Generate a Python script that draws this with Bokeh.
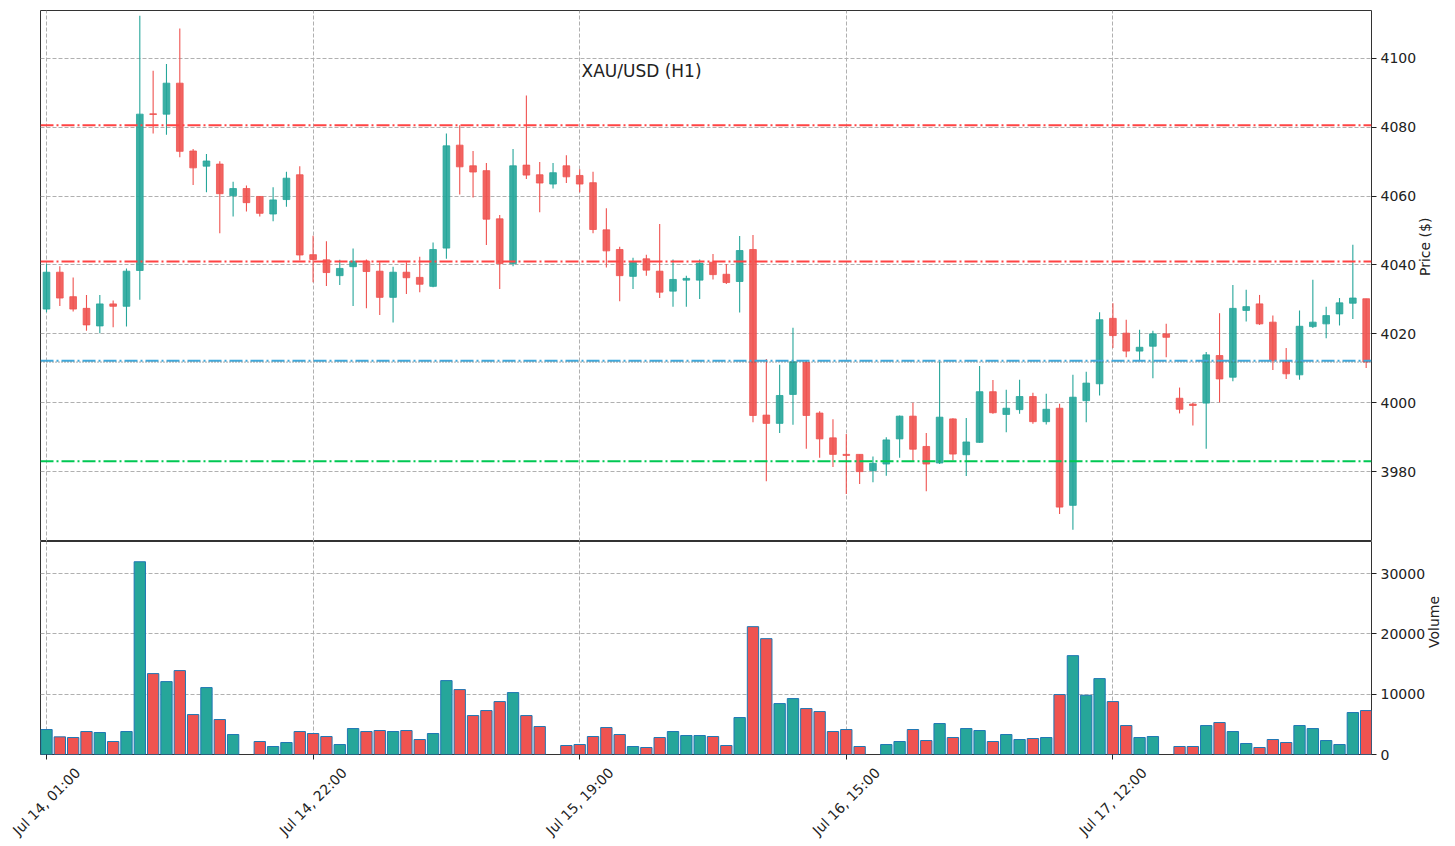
import math
from bokeh.plotting import figure
from bokeh.layouts import column
from bokeh.models import FixedTicker, Range1d, Label, Span, ColumnDataSource
from bokeh.core.properties import value
from bokeh.embed import file_html
from bokeh.resources import INLINE

title = "XAU/USD (H1)"
tick_positions = [0, 20, 40, 60, 80]
tick_labels = ["Jul 14, 01:00", "Jul 14, 22:00", "Jul 15, 19:00", "Jul 16, 15:00", "Jul 17, 12:00"]

opens = [4027.2, 4037.9, 4030.8, 4027.4, 4022.3, 4028.7, 4028.0, 4038.4, 4083.9, 4083.8,
         4092.8, 4073.1, 4068.7, 4069.3, 4060.1, 4062.2, 4059.9, 4054.8, 4059.0, 4066.2,
         4043.0, 4041.5, 4036.9, 4039.5, 4041.1, 4038.2, 4030.6, 4037.9, 4036.4, 4033.8,
         4044.9, 4074.8, 4068.8, 4067.4, 4053.4, 4040.4, 4069.0, 4066.2, 4063.5, 4068.8,
         4066.0, 4063.9, 4050.2, 4044.5, 4036.7, 4041.8, 4038.2, 4032.4, 4035.6, 4035.6,
         4040.8, 4037.3, 4035.2, 4044.5, 3996.4, 3994.0, 4002.4, 4011.7, 3997.0, 3989.8,
         3985.0, 3985.0, 3980.3, 3982.2, 3989.5, 3996.1, 3987.3, 3982.5, 3995.3, 3984.9,
         3988.5, 4003.2, 3996.6, 3998.0, 4001.8, 3994.5, 3998.4, 3970.2, 4000.6, 4005.5,
         4024.5, 4020.2, 4015.0, 4016.4, 4020.0, 4001.3, 3999.6, 3999.9, 4013.7, 4007.4,
         4026.8, 4028.7, 4023.4, 4012.0, 4008.1, 4022.1, 4022.9, 4025.8, 4028.9, 4030.2]
highs = [4040.3, 4039.6, 4036.4, 4031.3, 4031.3, 4029.7, 4039.0, 4112.4, 4096.4, 4098.4,
         4108.7, 4073.7, 4072.2, 4070.1, 4064.2, 4063.1, 4060.0, 4062.6, 4067.1, 4068.7,
         4048.5, 4046.9, 4041.5, 4044.8, 4041.6, 4040.8, 4039.5, 4040.8, 4042.4, 4046.5,
         4078.2, 4080.6, 4073.1, 4069.6, 4054.5, 4073.7, 4089.2, 4069.9, 4069.6, 4071.9,
         4067.8, 4067.1, 4056.5, 4045.3, 4042.1, 4043.0, 4051.9, 4041.6, 4036.9, 4041.6,
         4043.2, 4040.3, 4048.4, 4048.7, 4012.7, 4011.0, 4021.8, 4012.2, 3997.5, 3995.2,
         3990.9, 3985.0, 3984.4, 3990.0, 3996.3, 4000.0, 3991.2, 4012.0, 3995.5, 3995.6,
         4010.7, 4006.6, 4003.8, 4006.7, 4002.9, 4002.6, 3999.7, 4008.1, 4009.0, 4026.3,
         4028.9, 4024.1, 4021.2, 4020.9, 4022.9, 4004.4, 4000.0, 4014.7, 4026.0, 4034.2,
         4032.8, 4031.3, 4025.3, 4015.9, 4026.8, 4035.7, 4027.9, 4030.4, 4045.9, 4030.2]
lows = [4026.3, 4028.1, 4026.5, 4020.9, 4020.2, 4021.9, 4022.1, 4029.9, 4078.2, 4077.8,
        4071.3, 4063.2, 4061.1, 4049.2, 4054.1, 4055.5, 4054.1, 4052.7, 4056.9, 4041.3,
        4035.0, 4033.9, 4034.2, 4028.1, 4027.4, 4025.5, 4023.3, 4031.6, 4032.1, 4033.5,
        4041.8, 4060.5, 4059.6, 4045.8, 4033.0, 4039.6, 4065.0, 4055.3, 4062.2, 4063.8,
        4061.1, 4049.2, 4039.3, 4029.5, 4033.0, 4036.9, 4030.4, 4027.9, 4027.9, 4030.1,
        4035.8, 4034.5, 4026.2, 3994.3, 3977.2, 3991.2, 3993.6, 3986.6, 3984.0, 3981.3,
        3973.5, 3976.4, 3976.9, 3978.8, 3984.0, 3983.0, 3974.3, 3982.2, 3983.2, 3978.7,
        3988.4, 3996.8, 3991.4, 3996.8, 3993.9, 3993.7, 3967.7, 3963.1, 3994.3, 4002.1,
        4015.9, 4013.2, 4012.2, 4007.1, 4013.2, 3996.9, 3993.4, 3986.6, 4000.1, 4006.2,
        4023.6, 4022.6, 4009.5, 4006.9, 4006.7, 4021.7, 4018.7, 4022.4, 4024.3, 4010.1]
closes = [4037.9, 4030.4, 4027.2, 4022.6, 4028.7, 4028.0, 4038.2, 4083.8, 4083.7, 4092.8,
          4073.0, 4068.2, 4070.2, 4060.7, 4062.2, 4058.1, 4055.0, 4058.9, 4065.2, 4042.9,
          4041.6, 4037.8, 4039.0, 4041.1, 4038.1, 4030.6, 4037.9, 4036.3, 4034.4, 4044.5,
          4074.6, 4068.5, 4067.0, 4053.3, 4040.4, 4068.8, 4066.1, 4063.8, 4066.8, 4065.6,
          4063.5, 4050.3, 4044.1, 4036.9, 4040.8, 4038.5, 4032.1, 4035.8, 4036.1, 4040.5,
          4037.2, 4034.9, 4044.2, 3996.3, 3994.0, 4002.1, 4011.9, 3996.3, 3989.5, 3985.0,
          3984.7, 3980.0, 3982.4, 3989.2, 3996.1, 3986.5, 3982.2, 3995.8, 3985.1, 3988.6,
          4003.2, 3997.1, 3998.4, 4001.8, 3994.5, 3998.1, 3969.7, 4001.6, 4005.7, 4024.1,
          4019.5, 4015.0, 4016.1, 4020.0, 4019.0, 3998.1, 3999.2, 4013.9, 4006.9, 4027.4,
          4027.9, 4022.9, 4012.2, 4008.4, 4022.2, 4023.4, 4025.3, 4029.0, 4030.4, 4011.8]
volumes = [4144, 2928, 2818, 3812, 3646, 2155, 3812, 31989, 13425, 12099,
           13923, 6630, 11105, 5801, 3315, 0, 2155, 1326, 1989, 3812,
           3481, 2983, 1657, 4309, 3812, 3978, 3812, 3978, 2486, 3481,
           12265, 10773, 6464, 7293, 8785, 10276, 6464, 4641, 0, 1492,
           1657, 2983, 4475, 3315, 1326, 1160, 2818, 3812, 3149, 3149,
           2983, 1492, 6133, 21215, 19227, 8453, 9282, 7624, 7127, 3812,
           4144, 1326, 0, 1657, 2155, 4144, 2320, 5138, 2818, 4309,
           3978, 2155, 3315, 2486, 2652, 2818, 9945, 16409, 9834, 12597,
           8785, 4807, 2818, 2983, 0, 1326, 1326, 4807, 5304, 3812,
           1823, 1160, 2486, 1989, 4807, 4309, 2320, 1657, 6961, 7293]

resistance_levels = [4080.6, 4041.0]
pivot_level = 4012.2
support_level = 3983.0

UP = "#26a69a"
DOWN = "#ef5350"
FONT = "DejaVu Sans"
TXT = "#222222"
FS = "14px"

n = len(opens)
idx = list(range(n))
colors = [UP if c >= o else DOWN for o, c in zip(opens, closes)]
src = ColumnDataSource(dict(
    x=idx, o=opens, h=highs, l=lows, c=closes,
    top=[max(o, c) for o, c in zip(opens, closes)],
    bot=[min(o, c) for o, c in zip(opens, closes)],
    color=colors))
vx = [i for i in idx if volumes[i] > 0]
vsrc = ColumnDataSource(dict(x=vx, v=[volumes[i] for i in vx], color=[colors[i] for i in vx]))

X0, X1 = -0.45, 99.4
xr = Range1d(X0, X1)
FW = 1331
BL, BR = 40, 84

p1 = figure(frame_width=FW, frame_height=531, x_range=xr, y_range=Range1d(3959.7, 4113.9),
            y_axis_location="right", output_backend="svg", toolbar_location=None,
            min_border_left=BL, min_border_right=BR, min_border_top=10, min_border_bottom=0)
p1.xaxis.visible = False
p1.xaxis.ticker = FixedTicker(ticks=tick_positions)
p1.yaxis.ticker = FixedTicker(ticks=[3980, 4000, 4020, 4040, 4060, 4080, 4100])
p1.yaxis.axis_label = "Price ($)"

p2 = figure(frame_width=FW, frame_height=213, x_range=xr, y_range=Range1d(0, 35350),
            y_axis_location="right", output_backend="svg", toolbar_location=None,
            min_border_left=BL, min_border_right=BR, min_border_top=0, min_border_bottom=12)
p2.xaxis.ticker = FixedTicker(ticks=tick_positions)
p2.xaxis.major_label_overrides = {t: "" for t in tick_positions}
p2.xaxis.axis_line_color = None
p2.xaxis.major_tick_line_color = TXT
p2.xaxis.major_tick_out = 5
p2.xaxis.major_tick_in = 0
p2.xaxis.minor_tick_line_color = None
p2.xaxis.major_label_standoff = 0
p2.yaxis.ticker = FixedTicker(ticks=[0, 10000, 20000, 30000])
p2.yaxis.axis_label = "Volume"

for p in (p1, p2):
    p.background_fill_color = "white"
    p.border_fill_color = "white"
    p.outline_line_color = "#333333"
    p.outline_line_width = 1
    p.grid.grid_line_color = "#b0b0b0"
    p.grid.grid_line_dash = "4 2"
    p.grid.grid_line_width = 1
    ax = p.yaxis[0]
    ax.axis_line_color = None
    ax.major_tick_line_color = TXT
    ax.major_tick_out = 5
    ax.major_tick_in = 0
    ax.minor_tick_line_color = None
    ax.major_label_text_font = FONT
    ax.major_label_text_font_size = FS
    ax.major_label_text_color = TXT
    ax.major_label_standoff = 4
    ax.axis_label_text_font = FONT
    ax.axis_label_text_font_size = FS
    ax.axis_label_text_font_style = "normal"
    ax.axis_label_text_color = TXT
    ax.axis_label_standoff = 6
    ax.axis_label_orientation = math.pi / 2

# Candles
p1.segment(x0="x", y0="l", x1="x", y1="h", color="color", line_width=1.1, source=src)
p1.vbar(x="x", top="top", bottom="bot", width=0.5, fill_color="color", line_color="color",
        fill_alpha=0.9, line_width=0.8, source=src)

for lv in resistance_levels:
    p1.add_layout(Span(location=lv, dimension="width", line_color="#ff4444",
                       line_dash="13 3 2 3", line_width=2))
p1.add_layout(Span(location=pivot_level, dimension="width", line_color="#3fa9dc",
                   line_dash="13 3 2 3", line_width=2))
p1.add_layout(Span(location=support_level, dimension="width", line_color="#00c853",
                   line_dash="13 3 2 3", line_width=2))
p1.add_layout(Span(location=closes[-1], dimension="width", line_color="#555555",
                   line_dash="1 2", line_width=1))

p1.add_layout(Label(x=541, y=471, x_units="screen", y_units="screen", text=title,
                    text_font=FONT, text_font_size="17px", text_color=TXT,
                    text_align="left", text_baseline="middle"))

# Volume
p2.vbar(x="x", top="v", bottom=0, width=0.85, fill_color="color", line_color="#1f77b4",
        line_width=1, source=vsrc)

# Date label strip, frame aligned with the panels above
p3 = figure(frame_width=FW, frame_height=80, x_range=xr, y_range=Range1d(0, 80),
            x_axis_location=None, y_axis_location=None, output_backend="svg",
            toolbar_location=None, min_border_left=BL, min_border_right=BR,
            min_border_top=0, min_border_bottom=0)
p3.outline_line_color = None
p3.background_fill_color = "white"
p3.border_fill_color = "white"
p3.grid.visible = False
tsrc = ColumnDataSource(dict(x=tick_positions, label=tick_labels))
p3.text(x="x", y=45, text="label", angle=math.pi / 4, text_align="center",
        text_baseline="middle", text_font=value(FONT), text_font_size=FS,
        text_color=TXT, source=tsrc, level="overlay")

layout = column(p1, p2, p3, spacing=0)
open("out.html", "w").write(file_html(layout, INLINE))
